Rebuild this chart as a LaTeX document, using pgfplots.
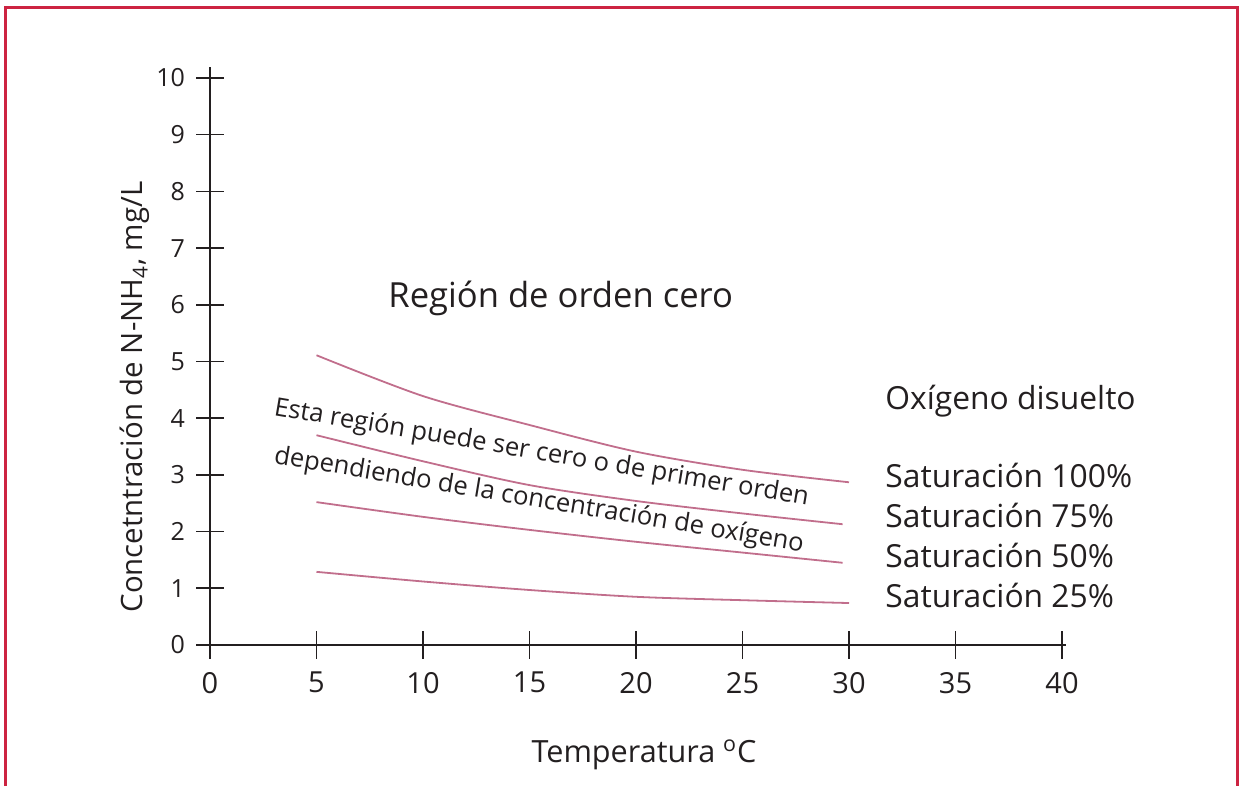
\documentclass[border=0pt]{standalone}
\usepackage{pgfplots}
\pgfplotsset{compat=1.18}
\usepackage{fontspec}
\setmainfont{Open Sans}
\definecolor{txt}{RGB}{35,31,32}
\definecolor{curve}{RGB}{193,110,140}
\definecolor{frame}{RGB}{205,35,65}
\begin{document}
\begin{tikzpicture}
\useasboundingbox (0,0) rectangle (620pt,393pt);
\draw[frame, line width=1.5pt] (2.5pt,0) -- (2.5pt,389pt) -- (618.5pt,389pt) -- (618.5pt,0);
\begin{axis}[
  at={(105pt,70.5pt)}, anchor=origin,
  x=10.65pt, y=28.35pt,
  xmin=0, xmax=40.2, ymin=0, ymax=10.2,
  axis lines=left,
  axis line style={-, line width=0.8pt, color=txt},
  xtick={0,5,...,40}, ytick={0,1,...,10},
  tick align=center, major tick length=14pt,
  tick style={line width=0.8pt, color=txt},
  /pgf/number format/assume math mode=true,
  xticklabel style={font=\fontsize{14.5}{16}\selectfont, color=txt, yshift=-3pt},
  yticklabel style={font=\fontsize{12.5}{14}\selectfont, color=txt, xshift=-2pt},
  clip=false,
]
\addplot[curve, line width=0.9pt, smooth] coordinates {(5,5.11) (10,4.39) (15,3.88) (20,3.41) (25,3.09) (30,2.87)};
\addplot[curve, line width=0.9pt, smooth] coordinates {(5,3.70) (10,3.24) (15,2.82) (20,2.54) (25,2.32) (29.7,2.13)};
\addplot[curve, line width=0.9pt, smooth] coordinates {(5,2.52) (10,2.26) (15,2.03) (20,1.82) (25,1.63) (29.7,1.45)};
\addplot[curve, line width=0.9pt, smooth] coordinates {(5,1.29) (10,1.12) (15,0.97) (20,0.85) (25,0.79) (30,0.74)};
\end{axis}
\begin{scope}[every node/.style={text=txt, inner sep=0pt}]
\node[anchor=base west, font=\fontsize{17.3}{19}\selectfont] at (194pt,239pt) {Región de orden cero};
\node[anchor=base west, font=\fontsize{15.9}{18}\selectfont] at (442.5pt,188pt) {Oxígeno disuelto};
\node[anchor=base west, font=\fontsize{15.9}{18}\selectfont] at (442.5pt,149pt) {Saturación 100\%};
\node[anchor=base west, font=\fontsize{15.9}{18}\selectfont] at (442.5pt,129pt) {Saturación 75\%};
\node[anchor=base west, font=\fontsize{15.9}{18}\selectfont] at (442.5pt,109pt) {Saturación 50\%};
\node[anchor=base west, font=\fontsize{15.9}{18}\selectfont] at (442.5pt,89pt) {Saturación 25\%};
\node[anchor=base west, rotate=-9.6, font=\fontsize{12.8}{15}\selectfont] at (136.5pt,185.5pt) {Esta región puede ser cero o de primer orden};
\node[anchor=base west, rotate=-9.5, font=\fontsize{12.8}{15}\selectfont] at (136.5pt,161.5pt) {dependiendo de la concentración de oxígeno};
\node[font=\fontsize{15.3}{18}\selectfont] at (322pt,15.5pt) {Temperatura \textsuperscript{o}C};
\node[rotate=90, font=\fontsize{14.7}{18}\selectfont] at (67.5pt,194.5pt) {Concetntración de N-NH\textsubscript{4}, mg/L};
\end{scope}
\end{tikzpicture}
\end{document}
